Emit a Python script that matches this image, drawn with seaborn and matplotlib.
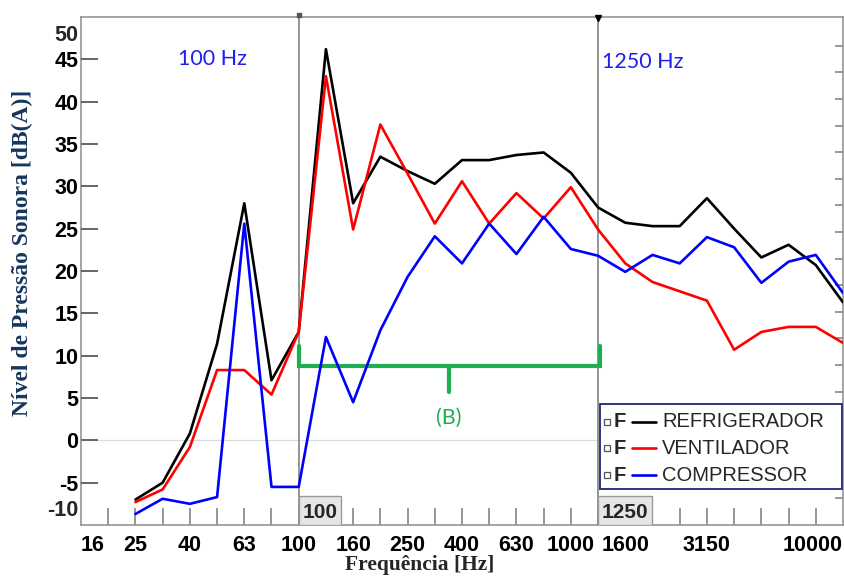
import numpy as np
import pandas as pd
import matplotlib
matplotlib.use("Agg")
import matplotlib.pyplot as plt
import matplotlib.transforms as mtransforms
from matplotlib.patches import Rectangle
from matplotlib.lines import Line2D
import seaborn as sns

# 1/3 octave bands shown on the axis (positions = index in this list)
bands = ['16', '20', '25', '31.5', '40', '50', '63', '80', '100', '125', '160',
         '200', '250', '315', '400', '500', '630', '800', '1000', '1250', '1600',
         '2000', '2500', '3150', '4000', '5000', '6300', '8000', '10000']
labelled = ['16', '25', '40', '63', '100', '160', '250', '400', '630', '1000',
            '1600', '3150', '10000']

# measured bands start at 25 Hz
measured = bands[2:]
refrigerador = [-7.0, -5.0, 0.8, 11.4, 28.0, 7.1, 12.8, 46.2, 28.0, 33.5, 31.8,
                30.3, 33.1, 33.1, 33.7, 34.0, 31.6, 27.5, 25.7, 25.3, 25.3, 28.6,
                25.0, 21.6, 23.1, 20.7, 16.3]
ventilador = [-7.3, -5.8, -0.8, 8.3, 8.3, 5.4, 12.8, 43.0, 24.9, 37.3, 31.5,
              25.6, 30.6, 25.6, 29.2, 26.2, 29.9, 24.9, 20.9, 18.7, 17.6, 16.5,
              10.7, 12.8, 13.4, 13.4, 11.5]
compressor = [-8.7, -6.9, -7.5, -6.7, 25.6, -5.5, -5.5, 12.2, 4.5, 13.0, 19.3,
              24.1, 20.9, 25.6, 22.0, 26.4, 22.6, 21.8, 19.9, 21.9, 20.9, 24.0,
              22.8, 18.6, 21.1, 21.9, 17.4]
fontes = ['REFRIGERADOR', 'VENTILADOR', 'COMPRESSOR']
cores = ['#000000', '#ff0000', '#0000ff']
marcas = ['100', '1250']
y_ticks = list(range(-5, 46, 5))

df = pd.DataFrame({
    'banda': measured * 3,
    'pos': [bands.index(b) for b in measured] * 3,
    'nivel': refrigerador + ventilador + compressor,
    'fonte': np.repeat(fontes, len(measured)),
})

sns.set_style('white')
plt.rcParams['font.family'] = ['Liberation Sans', 'DejaVu Sans']
plt.rcParams['axes.unicode_minus'] = False

fig = plt.figure(figsize=(8.45, 5.79), dpi=100)
ax = fig.add_axes([81 / 845, 1 - 525 / 579, 762 / 845, 508 / 579])

sns.lineplot(data=df, x='pos', y='nivel', hue='fonte', hue_order=fontes,
             palette=cores, linewidth=1.9, legend=False, ax=ax, zorder=4)

ax.set_xlim(0, len(bands) - 1)
ax.set_ylim(-10, 50)
ax.set_xlabel('')
ax.set_ylabel('')

cinza = '#7a7a7a'
for s in ax.spines.values():
    s.set_color('#8c8c8c')
    s.set_linewidth(1.1)

ax.axhline(0, color='#dcdcdc', lw=0.9, zorder=1)

# x: labels on major (no marks), inward marks on minor
ax.xaxis.remove_overlapping_locs = False
ax.set_xticks([bands.index(b) for b in labelled])
ax.set_xticklabels(labelled)
ax.set_xticks(range(1, len(bands) - 1), minor=True)
ax.tick_params(axis='x', which='major', length=0, labelsize=15.5, pad=7,
               colors='black')
ax.tick_params(axis='x', which='minor', direction='in', length=12.5, width=1.1,
               color=cinza, bottom=True, top=False)
# y: labels, marks drawn inward along the left spine
ax.set_yticks(y_ticks)
ax.set_yticklabels([str(v) for v in y_ticks])
ax.tick_params(axis='y', which='major', length=0, labelcolor='black',
               labelsize=15.5, pad=2)
for lab in ax.get_xticklabels() + ax.get_yticklabels():
    lab.set_fontweight('bold')
xl = ax.get_xticklabels()
xl[0].set_ha('left')
xl[-1].set_ha('right')

# inward marks on the left spine, about 17 px long
ax.hlines(y_ticks, 0, 17 * (len(bands) - 1) / 762, colors='#666666', lw=1.4,
          zorder=20, clip_on=False)

# right side ticks, no labels
sec = ax.secondary_yaxis('right')
sec.set_yticks(np.linspace(46.6, -6.8, 18))
sec.tick_params(axis='y', direction='in', length=6, width=1.1,
                color=cinza, labelright=False)
sec.spines['right'].set_visible(False)

# end labels of the y axis are pulled inside the range
ytr = ax.get_yaxis_transform()
off = lambda dy: ytr + mtransforms.ScaledTranslation(-0.028, dy, fig.dpi_scale_trans)
ax.text(0, 50, '50', transform=off(-0.08), ha='right', va='top',
        fontsize=15.5, fontweight='bold')
ax.text(0, -10, '-10', transform=off(0.04), ha='right', va='bottom',
        fontsize=15.5, fontweight='bold')

# reference lines at 100 Hz and 1250 Hz
for m in marcas:
    p = bands.index(m)
    ax.axvline(p, color='#8c8c8c', lw=1.3, zorder=2)
    w = 1.55 if m == '100' else 2.0
    ax.add_patch(Rectangle((p, -10), w, 3.4, fc='#e6e6e6', ec='#9a9a9a',
                           lw=1.0, zorder=5))
    ax.text(p + w / 2, -8.5, m, ha='center', va='center', fontsize=15,
            fontweight='bold', zorder=6)
ax.text(4.85, 45.0, '100 Hz', color='#1f1fee', fontsize=15.5, family='Lato',
        ha='center', va='center')
ax.text(20.65, 44.7, '1250 Hz', color='#1f1fee', fontsize=15.5, family='Lato',
        ha='center', va='center')
ax.plot([bands.index('100')], [50.2], marker='s', ms=3, color='#555555',
        clip_on=False, zorder=6)
ax.plot([bands.index('1250')], [49.9], marker='v', ms=5, color='black',
        clip_on=False, zorder=6)

# bracket (B)
verde = '#1fae4f'
x0, x1 = bands.index('100'), bands.index('1250') + 0.06
xm = (x0 + x1) / 2
ax.plot([x0, x0, x1, x1], [11.2, 8.8, 8.8, 11.2], color=verde, lw=3,
        solid_joinstyle='miter', zorder=3)
ax.plot([xm, xm], [8.8, 5.7], color=verde, lw=3, zorder=3)
ax.text(xm, 2.6, '(B)', color=verde, fontsize=15.5, family='Lato',
        ha='center', va='center')

# legend box
ax.add_patch(Rectangle((0.681, 0.071), 0.318, 0.167, transform=ax.transAxes,
                       fc='white', ec='#2e3580', lw=1.4, zorder=10,
                       clip_on=False))
rows = [0.203, 0.151, 0.098]
for yy, nome, cor in zip(rows, fontes, cores):
    ax.plot([0.690], [yy], marker='s', ms=4.5, mfc='white', mec='#555555',
            mew=0.9, transform=ax.transAxes, zorder=11, clip_on=False)
    ax.text(0.707, yy, 'F', transform=ax.transAxes, fontsize=14.5,
            fontweight='bold', ha='center', va='center', zorder=11)
    ax.add_line(Line2D([0.7235, 0.755], [yy, yy], color=cor, lw=1.9,
                       transform=ax.transAxes, zorder=11))
    ax.text(0.7625, yy, nome, transform=ax.transAxes, fontsize=14.5,
            ha='left', va='center', zorder=11)

fig.text(420 / 845, 1 - 565 / 579, 'Frequência [Hz]', family='Liberation Serif',
         fontweight='bold', fontsize=15.5, ha='center', va='center')
fig.text(22 / 845, 1 - 253 / 579, 'Nível de Pressão Sonora [dB(A)]',
         family='Liberation Serif', fontweight='bold', fontsize=17,
         color='#17365d', rotation=90, ha='center', va='center')

fig.savefig('out.png', dpi=100)
